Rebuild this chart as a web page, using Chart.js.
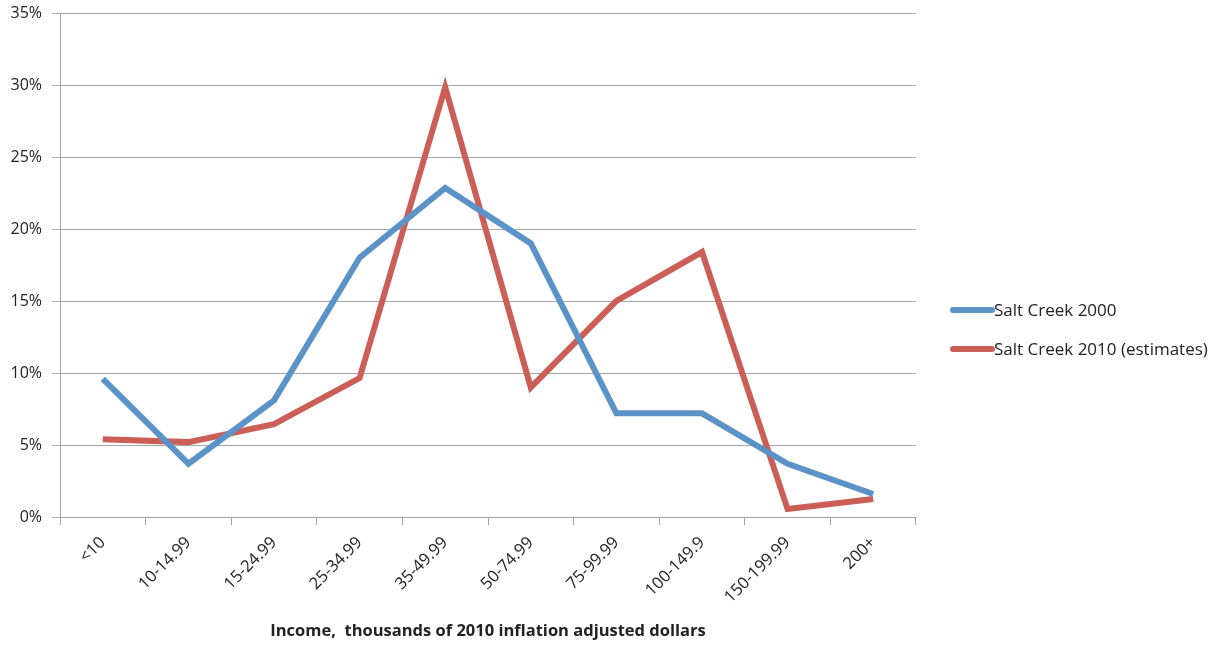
<!DOCTYPE html>
<html>
<head>
<meta charset="utf-8">
<script src="https://cdn.jsdelivr.net/npm/chart.js@4/dist/chart.umd.min.js"></script>
<style>
html,body{margin:0;padding:0;background:#fff;}
#wrap{width:1222px;height:645px;position:relative;}
</style>
</head>
<body>
<div id="wrap"><canvas id="c" width="1222" height="645"></canvas></div>
<script>
const categories = ["<10","10-14.99","15-24.99","25-34.99","35-49.99","50-74.99","75-99.99","100-149.9","150-199.99","200+"];
const series2000 = [9.6, 3.7, 8.1, 18.0, 22.85, 19.0, 7.2, 7.2, 3.7, 1.6];
const series2010 = [5.4, 5.2, 6.45, 9.65, 29.85, 9.0, 15.0, 18.4, 0.55, 1.25];
const seriesLabels = ["Salt Creek 2000", "Salt Creek 2010 (estimates)"];
const seriesColors = ["#5B93C8", "#CB5F57"];
const xTitle = "Income,  thousands of 2010 inflation adjusted dollars";

const FONT = "'Open Sans', sans-serif";
const textColor = "#222";
const gridColor = "#a6a6a6";

const legendPlugin = {
  id: 'sideLegend',
  afterDraw(chart) {
    const ctx = chart.ctx;
    const x0 = chart.chartArea.right + 34;
    const startY = 310;
    const gap = 39;
    ctx.save();
    chart.data.datasets.forEach((ds, i) => {
      const y = startY + i * gap;
      ctx.strokeStyle = ds.borderColor;
      ctx.lineWidth = 6;
      ctx.lineCap = 'round';
      ctx.beginPath();
      ctx.moveTo(x0 + 3, y);
      ctx.lineTo(x0 + 42, y);
      ctx.stroke();
      ctx.fillStyle = textColor;
      ctx.font = "17px " + FONT;
      ctx.textBaseline = 'middle';
      ctx.textAlign = 'left';
      ctx.fillText(ds.label, x0 + 44, y + 1);
    });
    ctx.restore();
  }
};

new Chart(document.getElementById('c'), {
  type: 'line',
  data: {
    labels: categories,
    datasets: [
      { label: seriesLabels[0], data: series2000, borderColor: seriesColors[0], backgroundColor: seriesColors[0], borderWidth: 6, pointRadius: 0, tension: 0, fill: false },
      { label: seriesLabels[1], data: series2010, borderColor: seriesColors[1], backgroundColor: seriesColors[1], borderWidth: 6, pointRadius: 0, tension: 0, fill: false }
    ]
  },
  options: {
    responsive: false,
    animation: false,
    layout: { padding: { top: 13, right: 306, bottom: 4, left: 0 } },
    plugins: { legend: { display: false }, tooltip: { enabled: false } },
    scales: {
      x: {
        offset: true,
        grid: { display: true, drawOnChartArea: false, drawTicks: true, tickLength: 8, color: gridColor, offset: true },
        border: { display: true, color: gridColor, width: 1 },
        ticks: { color: textColor, font: { family: FONT, size: 16.5 }, minRotation: 45, maxRotation: 45, padding: 8, autoSkip: false },
        title: { display: true, text: xTitle, color: textColor, font: { family: FONT, size: 16.5, weight: 'bold' }, padding: { top: 0, bottom: 0 } },
        afterFit(scale) { scale.height = 124; scale.paddingLeft = 0; scale.paddingRight = 0; }
      },
      y: {
        min: 0, max: 35,
        ticks: { stepSize: 5, color: textColor, font: { family: FONT, size: 16 }, padding: 10, callback: v => v + "%" },
        grid: { color: gridColor, drawTicks: true, tickLength: 8 },
        border: { display: true, color: gridColor, width: 1 },
        afterFit(scale) { scale.width = 60; scale.paddingTop = 0; scale.paddingBottom = 0; }
      }
    }
  },
  plugins: [legendPlugin]
});
</script>
</body>
</html>
